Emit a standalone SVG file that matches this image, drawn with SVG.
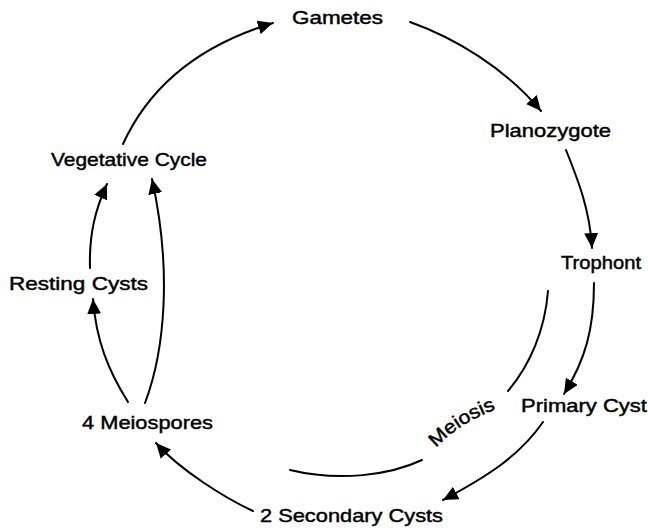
<svg xmlns="http://www.w3.org/2000/svg" width="648" height="528" viewBox="0 0 648 528">
<style>
  text { font-family: "Liberation Sans", Arial, sans-serif; font-size: 19px; fill: #000; stroke: #000; stroke-width: 0.45px; }
  .c { fill: none; stroke: #000; stroke-width: 2; stroke-linecap: round; }
  .a { marker-end: url(#ah); }
</style>
<defs>
  <marker id="ah" markerUnits="userSpaceOnUse" markerWidth="16" markerHeight="14" refX="15" refY="7" orient="auto" viewBox="0 0 16 14">
    <path d="M0,0 L15,7 L0,14 Z" fill="#000"/>
  </marker>
  <path id="meiosisPath" d="M436,448 Q462,420 505,406"/>
</defs>
<rect width="648" height="528" fill="#fff"/>
<g id="connectors">
  <path class="c a" d="M123,144 C150,85 200,45 273,23"/>
  <path class="c a" d="M410,22 C455,38 505,68 541,111"/>
  <path class="c a" d="M566,150 C578,180 590,210 592,248"/>
  <path class="c a" d="M594,283 C594,330 585,360 564,394"/>
  <path class="c a" d="M543,422 C520,455 490,475 443,500"/>
  <path class="c a" d="M253,511 C225,498 180,470 156,443"/>
  <path class="c a" d="M128,402 C108,370 96,340 93,299"/>
  <path class="c a" d="M90,268 C89,235 95,210 107,184"/>
  <path class="c a" d="M145,403 C165,350 172,270 152,179"/>
  <path class="c" d="M548,291 C545,330 530,365 508,391"/>
  <path class="c" d="M422,460 C390,475 340,482 290,470"/>
</g>
<g id="gametes"><text x="292" y="24" textLength="91" lengthAdjust="spacingAndGlyphs">Gametes</text></g>
<g id="planozygote"><text x="490" y="137" textLength="121" lengthAdjust="spacingAndGlyphs">Planozygote</text></g>
<g id="trophont"><text x="561" y="269" textLength="80" lengthAdjust="spacingAndGlyphs">Trophont</text></g>
<g id="primary-cyst"><text x="521" y="412" textLength="126" lengthAdjust="spacingAndGlyphs">Primary Cyst</text></g>
<g id="secondary-cysts"><text x="260" y="522" textLength="183" lengthAdjust="spacingAndGlyphs">2 Secondary Cysts</text></g>
<g id="meiospores"><text x="82" y="429" textLength="131" lengthAdjust="spacingAndGlyphs">4 Meiospores</text></g>
<g id="resting-cysts"><text x="9" y="290" textLength="139" lengthAdjust="spacingAndGlyphs">Resting Cysts</text></g>
<g id="vegetative-cycle"><text x="51" y="166" textLength="156" lengthAdjust="spacingAndGlyphs">Vegetative Cycle</text></g>
<g id="meiosis"><text><textPath href="#meiosisPath" textLength="72" lengthAdjust="spacingAndGlyphs">Meiosis</textPath></text></g>
</svg>
